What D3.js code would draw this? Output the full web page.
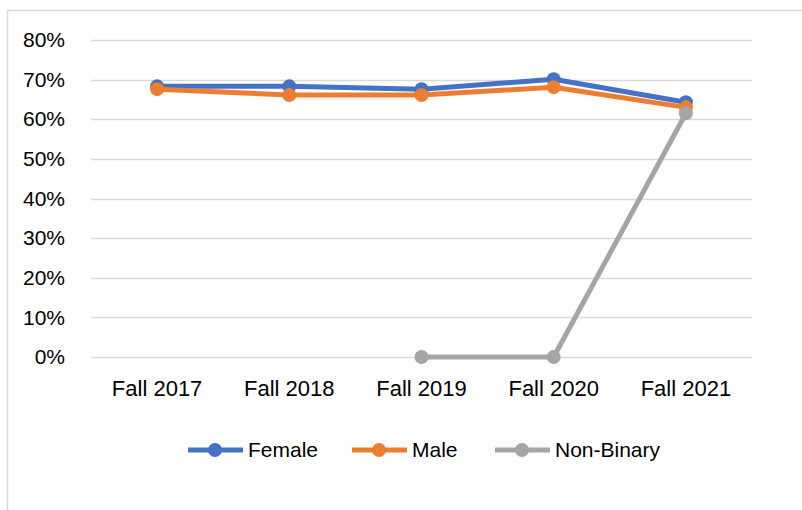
<!DOCTYPE html>
<html lang="en">
<head>
<meta charset="utf-8">
<title>Enrollment by gender</title>
<script src="https://cdn.jsdelivr.net/npm/d3@7"></script>
<style>
  body { margin: 0; background: #fff; }
  text { font-family: "Liberation Sans", Arial, sans-serif; fill: #000; }
</style>
</head>
<body>
<script>
// data
var terms = ["Fall 2017", "Fall 2018", "Fall 2019", "Fall 2020", "Fall 2021"];
var female = [0.683, 0.683, 0.676, 0.701, 0.643];
var male = [0.676, 0.661, 0.661, 0.681, 0.630];
var nonBinary = [null, null, 0, 0, 0.615];
var yTicks = [0, 0.1, 0.2, 0.3, 0.4, 0.5, 0.6, 0.7, 0.8];

var series = [
  { name: "Female", values: female, color: "#4472C4" },
  { name: "Male", values: male, color: "#ED7D31" },
  { name: "Non-Binary", values: nonBinary, color: "#A5A5A5" }
];

var width = 802, height = 510;
var padLeft = 91, padRight = 752, padTop = 40, padBottom = 357;

var svg = d3.select("body").append("svg")
  .attr("width", width).attr("height", height);

// chart area border (only top and left visible)
svg.append("path")
  .attr("d", "M7.5,510 V10.5 H802")
  .attr("fill", "none")
  .attr("stroke", "#D9D9D9")
  .attr("stroke-width", 1.5);

var x = d3.scaleBand().domain(terms).range([padLeft, padRight]);
var y = d3.scaleLinear().domain([0, 0.8]).range([padBottom, padTop]);

// gridlines
svg.append("g").selectAll("line")
  .data(yTicks)
  .enter().append("line")
  .attr("x1", padLeft).attr("x2", padRight)
  .attr("y1", function (d) { return Math.round(y(d)) + 0.5; })
  .attr("y2", function (d) { return Math.round(y(d)) + 0.5; })
  .attr("stroke", "#D9D9D9")
  .attr("stroke-width", 1.5);

// y axis labels
var yAxis = d3.axisLeft(y).tickValues(yTicks).tickFormat(d3.format(".0%")).tickSize(0).tickPadding(0);
var gy = svg.append("g").attr("transform", "translate(65,0)").call(yAxis);
gy.select(".domain").remove();
gy.selectAll("text").style("font-size", "21px").style("font-family", null).attr("fill", "#000");

// x axis labels
var xAxis = d3.axisBottom(x).tickSize(0).tickPadding(0);
var gx = svg.append("g").attr("transform", "translate(0,380)").call(xAxis);
gx.select(".domain").remove();
gx.selectAll("text").style("font-size", "22px").style("font-family", null).attr("fill", "#000");

var cx = function (d, i) { return x(terms[i]) + x.bandwidth() / 2; };

var line = d3.line()
  .defined(function (d) { return d !== null; })
  .x(cx)
  .y(function (d) { return y(d); });

series.forEach(function (s) {
  svg.append("path")
    .datum(s.values)
    .attr("fill", "none")
    .attr("stroke", s.color)
    .attr("stroke-width", 5)
    .attr("stroke-linejoin", "round")
    .attr("d", line);

  svg.append("g").selectAll("circle")
    .data(s.values.map(function (v, i) { return { v: v, i: i }; })
      .filter(function (d) { return d.v !== null; }))
    .enter().append("circle")
    .attr("cx", function (d) { return cx(d.v, d.i); })
    .attr("cy", function (d) { return y(d.v); })
    .attr("r", 7)
    .attr("fill", s.color);
});

// legend
var legendX = [188, 352, 495];
var legend = svg.append("g").attr("transform", "translate(0,450)");
series.forEach(function (s, i) {
  var g = legend.append("g").attr("transform", "translate(" + legendX[i] + ",0)");
  g.append("line").attr("x1", 0).attr("x2", 55).attr("y1", 0).attr("y2", 0)
    .attr("stroke", s.color).attr("stroke-width", 5);
  g.append("circle").attr("cx", 27).attr("cy", 0).attr("r", 7).attr("fill", s.color);
  g.append("text").attr("x", 60).attr("y", 0).attr("dy", "0.35em")
    .style("font-size", "21px").text(s.name);
});
</script>
</body>
</html>
